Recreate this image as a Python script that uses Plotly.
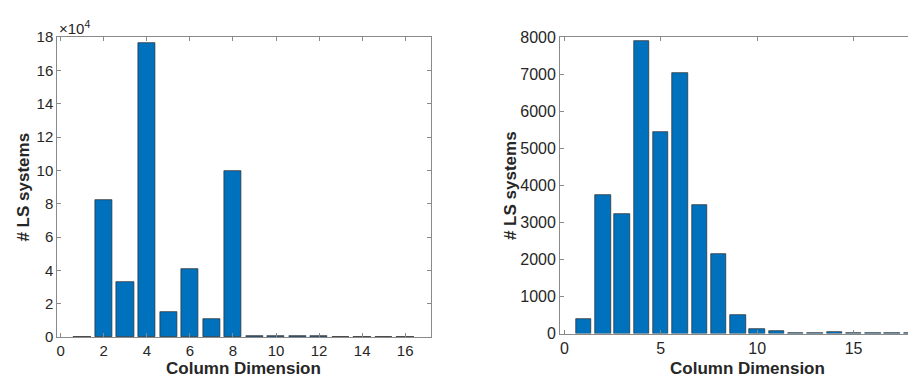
import plotly.graph_objects as go

# Left panel data
left_dims = list(range(1, 17))
left_counts = [300, 82100, 33000, 176700, 14900, 41000, 10700, 99600,
               800, 400, 400, 400, 150, 100, 100, 100]
left_ytick_vals = [0, 20000, 40000, 60000, 80000, 100000, 120000, 140000, 160000, 180000]
left_ytick_text = ["0", "2", "4", "6", "8", "10", "12", "14", "16", "18"]
left_xticks = [0, 2, 4, 6, 8, 10, 12, 14, 16]

# Right panel data
right_dims = list(range(1, 19))
right_counts = [390, 3730, 3230, 7900, 5450, 7030, 3460, 2160, 490, 130,
                60, 20, 20, 30, 25, 5, 5, 5]
right_yticks = [0, 1000, 2000, 3000, 4000, 5000, 6000, 7000, 8000]
right_xticks = [0, 5, 10, 15]

W, H = 916, 381
BAR = "#0072BD"
EDGE = "rgb(40,40,40)"
AX = "#8a8a8a"
TXT = "#262626"
FONT = "Liberation Sans, Arial, sans-serif"

fig = go.Figure()
fig.add_trace(go.Bar(x=left_dims, y=left_counts, width=0.8, marker=dict(color=BAR, line=dict(color=EDGE, width=0.7)),
                     xaxis="x", yaxis="y", showlegend=False))
fig.add_trace(go.Bar(x=right_dims, y=right_counts, width=0.8, marker=dict(color=BAR, line=dict(color=EDGE, width=0.7)),
                     xaxis="x2", yaxis="y2", showlegend=False))

def yd(top_px, bot_px):
    return [1 - bot_px / H, 1 - top_px / H]

def common(size):
    return dict(showgrid=False, zeroline=False, showline=True, linecolor=AX, linewidth=1,
                ticks="inside", ticklen=4, tickcolor=AX, tickfont=dict(family=FONT, size=size, color=TXT))

fig.update_layout(
    width=W, height=H, margin=dict(l=0, r=0, t=0, b=0),
    paper_bgcolor="white", plot_bgcolor="white", bargap=0,
    xaxis=dict(domain=[48.3 / W, 422.3 / W], range=[-0.16, 17.19], tickvals=left_xticks,
               mirror="ticks", anchor="y", **common(15)),
    yaxis=dict(domain=yd(21, 336), range=[0, 180000], tickvals=left_ytick_vals, ticktext=left_ytick_text,
               mirror="ticks", anchor="x", **common(15)),
    xaxis2=dict(domain=[551.7 / W, 1.0], range=[-0.22, 18.65], tickvals=right_xticks,
                mirror="ticks", anchor="y2", **common(16)),
    yaxis2=dict(domain=yd(21, 332.3), range=[0, 8000], tickvals=right_yticks,
                mirror=False, anchor="x2", **common(16)),
)

def ann(text, x, y, size=17, bold=True, angle=0):
    fig.add_annotation(text=f"<b>{text}</b>" if bold else text, x=x / W, y=1 - y / H, xref="paper", yref="paper",
                       showarrow=False, textangle=angle, xanchor="center", yanchor="middle",
                       font=dict(family=FONT, size=size, color=TXT))

ann("Column Dimension", 235, 369)
ann("# LS systems", 15, 178, angle=-90)
ann("Column Dimension", 739, 369)
ann("# LS systems", 502, 177, angle=-90)
fig.add_annotation(text="×10<sup>4</sup>", x=48 / W, y=1 - 11 / H, xref="paper", yref="paper",
                   showarrow=False, xanchor="left", yanchor="middle",
                   font=dict(family=FONT, size=15, color=TXT))

fig.write_html("out.html")
